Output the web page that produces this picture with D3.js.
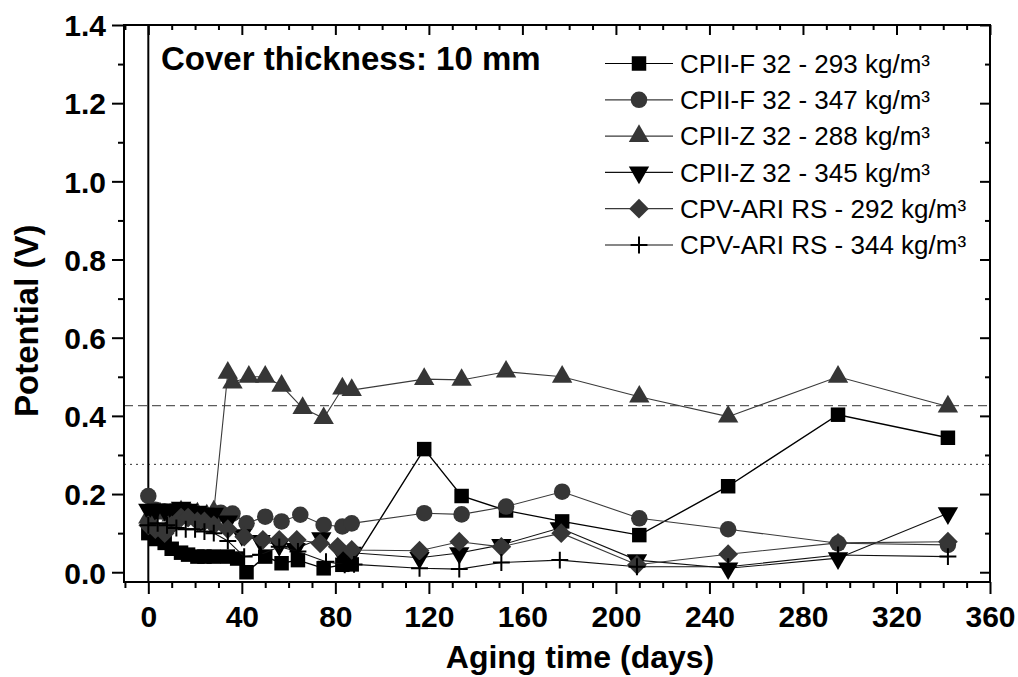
<!DOCTYPE html>
<html>
<head>
<meta charset="utf-8">
<script src="https://cdn.jsdelivr.net/npm/d3@7"></script>
<style>
html,body{margin:0;padding:0;background:#fff;}
svg{display:block;font-family:"Liberation Sans",Arial,sans-serif;}
</style>
</head>
<body>
<svg id="chart" width="1018" height="677"></svg>
<script>
// ---- data (days, potential V) ----
const seriesNames = [
  "CPII-F 32 - 293 kg/m³",
  "CPII-F 32 - 347 kg/m³",
  "CPII-Z 32 - 288 kg/m³",
  "CPII-Z 32 - 345 kg/m³",
  "CPV-ARI RS - 292 kg/m³",
  "CPV-ARI RS - 344 kg/m³"
];
const cpiiF293 = [[0,0.10],[3,0.085],[7,0.075],[10,0.06],[14,0.05],[17,0.045],[21,0.04],[24,0.04],[28,0.04],[34,0.04],[38,0.035],[42,0.0],[50,0.04],[57,0.023],[64,0.031],[75,0.01],[83,0.019],[87,0.02],[118,0.315],[134,0.195],[153,0.158],[177,0.13],[210,0.095],[248,0.22],[295,0.403],[342,0.344]];
const cpiiF347 = [[0,0.195],[3,0.16],[7,0.155],[10,0.155],[14,0.15],[17,0.15],[21,0.14],[24,0.14],[28,0.14],[31,0.152],[36,0.15],[42,0.125],[50,0.142],[57,0.13],[65,0.147],[75,0.121],[83,0.117],[87,0.125],[118,0.151],[134,0.148],[153,0.168],[177,0.206],[210,0.138],[248,0.11],[295,0.074],[342,0.07]];
const cpiiZ288 = [[0,0.14],[5,0.15],[10,0.145],[14,0.155],[18,0.15],[21,0.15],[25,0.145],[28,0.155],[34,0.51],[36,0.485],[43,0.5],[50,0.5],[57,0.477],[66,0.42],[75,0.394],[83,0.47],[87,0.466],[118,0.494],[134,0.492],[153,0.513],[177,0.5],[210,0.449],[248,0.398],[295,0.5],[342,0.424]];
const cpiiZ345 = [[0,0.16],[3,0.16],[7,0.16],[10,0.16],[14,0.165],[17,0.16],[21,0.155],[24,0.15],[28,0.15],[34,0.13],[40,0.095],[48,0.08],[56,0.07],[63,0.06],[74,0.087],[83,0.044],[87,0.05],[116,0.037],[133,0.049],[151,0.07],[176,0.113],[209,0.031],[248,0.01],[295,0.036],[342,0.151]];
const cpvARI292 = [[0,0.12],[3,0.11],[7,0.1],[10,0.12],[14,0.14],[17,0.14],[21,0.13],[24,0.13],[28,0.12],[34,0.11],[41,0.091],[49,0.083],[56,0.083],[63.5,0.083],[73.5,0.074],[81,0.065],[87,0.057],[116,0.055],[133,0.078],[151,0.065],[176.6,0.1],[209,0.019],[248,0.046],[295,0.075],[342,0.078]];
const cpvARI344 = [[0,0.12],[4,0.125],[8,0.12],[12,0.113],[16,0.11],[20,0.11],[24,0.104],[28,0.1],[34,0.08],[41,0.04],[48,0.045],[56,0.065],[64,0.053],[76,0.027],[84,0.019],[88,0.02],[116,0.01],[133,0.008],[151,0.025],[176,0.031],[209,0.014],[248,0.014],[295,0.044],[342,0.04]];
const xTicks = [0,40,80,120,160,200,240,280,320,360];
const yTicks = [0.0,0.2,0.4,0.6,0.8,1.0,1.2,1.4];
const refLines = [0.426, 0.276];
const titleText = "Cover thickness: 10 mm";
const xLabel = "Aging time (days)";
const yLabel = "Potential (V)";

// ---- layout ----
const L = 124, R = 990, T = 25, B = 582;
const svg = d3.select("#chart");
const x = d3.scaleLinear().domain([-10.4, 360]).range([L, R]);
const y = d3.scaleLinear().domain([-0.025, 1.4]).range([B, T]);

const gray = "#363636";
const styles = [
  {data: cpiiF293, sym: "square", color: "#000", line: "#000", lw: 1.4},
  {data: cpiiF347, sym: "circle", color: gray, line: "#3a3a3a", lw: 1.1},
  {data: cpiiZ288, sym: "triUp", color: gray, line: "#3a3a3a", lw: 1.1},
  {data: cpiiZ345, sym: "triDown", color: "#000", line: "#111", lw: 1.1},
  {data: cpvARI292, sym: "diamond", color: gray, line: "#3a3a3a", lw: 1.1},
  {data: cpvARI344, sym: "plus", color: "#000", line: "#111", lw: 1.1}
];

function drawSymbol(g, sym, color) {
  if (sym === "square") g.append("path").attr("d", d3.symbol(d3.symbolSquare, 210)()).attr("fill", color);
  else if (sym === "circle") g.append("path").attr("d", d3.symbol(d3.symbolCircle, 215)()).attr("fill", color);
  else if (sym === "triUp") g.append("path").attr("d", d3.symbol(d3.symbolTriangle, 180)()).attr("fill", color);
  else if (sym === "triDown") g.append("path").attr("d", d3.symbol(d3.symbolTriangle, 180)()).attr("fill", color).attr("transform", "rotate(180)");
  else if (sym === "diamond") g.append("path").attr("d", d3.symbol(d3.symbolSquare, 195)()).attr("fill", color).attr("transform", "rotate(45)");
  else if (sym === "plus") g.append("path").attr("d", d3.symbol(d3.symbolPlus, 95)()).attr("fill", "none").attr("stroke", color).attr("stroke-width", 2);
}

// reference lines
svg.append("line").attr("x1", L).attr("x2", R).attr("y1", y(refLines[0])).attr("y2", y(refLines[0]))
  .attr("stroke", "#333").attr("stroke-width", 1).attr("stroke-dasharray", "9,5");
svg.append("line").attr("x1", L).attr("x2", R).attr("y1", y(refLines[1])).attr("y2", y(refLines[1]))
  .attr("stroke", "#333").attr("stroke-width", 1).attr("stroke-dasharray", "2,4");

// vertical line at x=0
svg.append("line").attr("x1", x(0)).attr("x2", x(0)).attr("y1", T).attr("y2", B)
  .attr("stroke", "#000").attr("stroke-width", 2);

// series
const lineGen = d3.line().x(d => x(d[0])).y(d => y(d[1]));
styles.forEach(s => {
  const g = svg.append("g");
  g.append("path").attr("d", lineGen(s.data)).attr("fill", "none").attr("stroke", s.line).attr("stroke-width", s.lw);
  s.data.forEach(d => {
    const m = g.append("g").attr("transform", `translate(${x(d[0])},${y(d[1])})`);
    drawSymbol(m, s.sym, s.color);
  });
});

// axes
const fontTick = "bold 30px 'Liberation Sans', Arial, sans-serif";
const xMinor = d3.range(-10, 361, 10);
const yMinor = d3.range(0, 14.01, 1).map(v => v / 10);

const xAxisB = d3.axisBottom(x).tickValues(xTicks).tickSize(12).tickFormat(d3.format("d"));
const gxb = svg.append("g").attr("transform", `translate(0,${B})`).call(xAxisB);
gxb.select(".domain").remove();
gxb.selectAll("line").attr("stroke", "#000").attr("stroke-width", 2);
gxb.selectAll("text").attr("dy", null).attr("y", 45).style("font", fontTick).attr("fill", "#000");
svg.append("g").attr("transform", `translate(0,${B})`).call(d3.axisBottom(x).tickValues(xMinor.filter(v => !xTicks.includes(v))).tickSize(6).tickFormat(""))
  .call(g => { g.select(".domain").remove(); g.selectAll("line").attr("stroke", "#000").attr("stroke-width", 2); });

// top axis (inward ticks)
svg.append("g").attr("transform", `translate(0,${T})`).call(d3.axisBottom(x).tickValues(xTicks).tickSize(10).tickFormat(""))
  .call(g => { g.select(".domain").remove(); g.selectAll("line").attr("stroke", "#000").attr("stroke-width", 2); });
svg.append("g").attr("transform", `translate(0,${T})`).call(d3.axisBottom(x).tickValues(xMinor.filter(v => !xTicks.includes(v))).tickSize(5).tickFormat(""))
  .call(g => { g.select(".domain").remove(); g.selectAll("line").attr("stroke", "#000").attr("stroke-width", 2); });

// left axis
const gyl = svg.append("g").attr("transform", `translate(${L},0)`).call(d3.axisLeft(y).tickValues(yTicks).tickSize(12).tickFormat(d3.format(".1f")));
gyl.select(".domain").remove();
gyl.selectAll("line").attr("stroke", "#000").attr("stroke-width", 2);
gyl.selectAll("text").attr("x", -18).attr("dy", "0.36em").style("font", fontTick).attr("fill", "#000");
svg.append("g").attr("transform", `translate(${L},0)`).call(d3.axisLeft(y).tickValues(yMinor.filter(v => !yTicks.some(t => Math.abs(t - v) < 1e-6))).tickSize(6).tickFormat(""))
  .call(g => { g.select(".domain").remove(); g.selectAll("line").attr("stroke", "#000").attr("stroke-width", 2); });

// right axis (inward)
svg.append("g").attr("transform", `translate(${R},0)`).call(d3.axisLeft(y).tickValues(yTicks).tickSize(10).tickFormat(""))
  .call(g => { g.select(".domain").remove(); g.selectAll("line").attr("stroke", "#000").attr("stroke-width", 2); });
svg.append("g").attr("transform", `translate(${R},0)`).call(d3.axisLeft(y).tickValues(yMinor.filter(v => !yTicks.some(t => Math.abs(t - v) < 1e-6))).tickSize(5).tickFormat(""))
  .call(g => { g.select(".domain").remove(); g.selectAll("line").attr("stroke", "#000").attr("stroke-width", 2); });

// frame
svg.append("rect").attr("x", L).attr("y", T).attr("width", R - L).attr("height", B - T)
  .attr("fill", "none").attr("stroke", "#000").attr("stroke-width", 2);

// axis titles
svg.append("text").attr("x", 580).attr("y", 668).attr("text-anchor", "middle")
  .style("font", "bold 32px 'Liberation Sans', Arial, sans-serif").text(xLabel);
svg.append("text").attr("transform", `translate(38,417) rotate(-90)`).attr("text-anchor", "start")
  .style("font", "bold 33px 'Liberation Sans', Arial, sans-serif").text(yLabel);

// inner title
svg.append("text").attr("x", 161).attr("y", 70)
  .style("font", "bold 33px 'Liberation Sans', Arial, sans-serif").text(titleText);

// legend
const legY0 = 63.5, legDy = 36.3;
styles.forEach((s, i) => {
  const ly = legY0 + i * legDy;
  const g = svg.append("g");
  g.append("line").attr("x1", 605).attr("x2", 673).attr("y1", ly).attr("y2", ly).attr("stroke", s.line).attr("stroke-width", 1.2);
  const m = g.append("g").attr("transform", `translate(639,${ly})`);
  drawSymbol(m, s.sym, s.color);
  g.append("text").attr("x", 680).attr("y", ly).attr("dy", "0.36em")
    .style("font", "26px 'Liberation Sans', Arial, sans-serif").text(seriesNames[i]);
});
</script>
</body>
</html>
